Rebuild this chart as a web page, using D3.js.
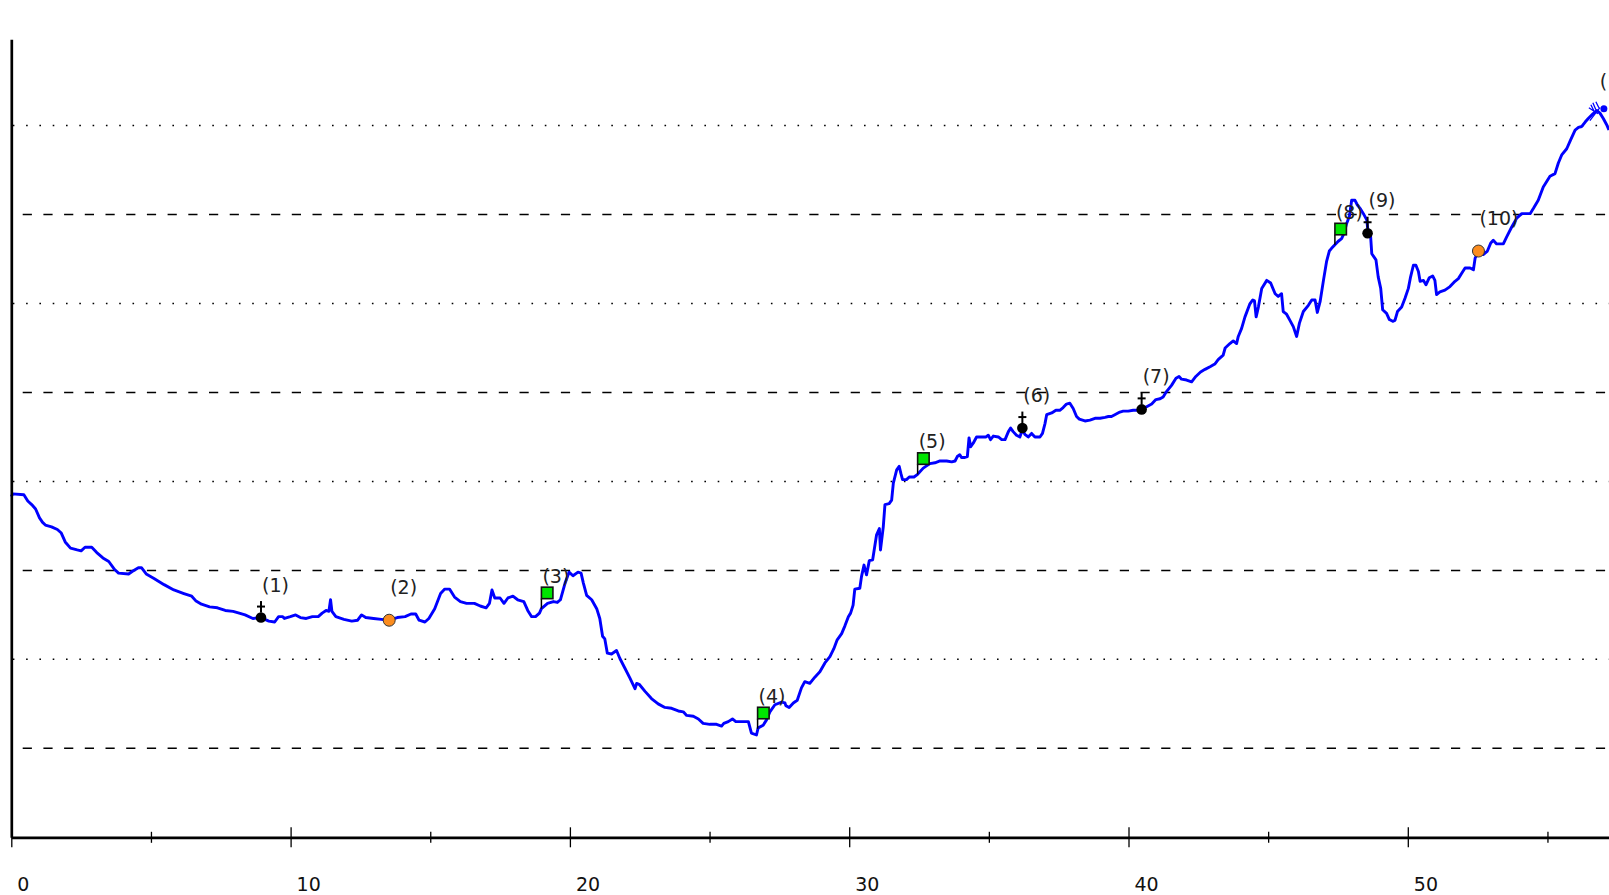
<!DOCTYPE html>
<html><head><meta charset="utf-8">
<script src="https://cdn.jsdelivr.net/npm/d3@7"></script>
<style>html,body{margin:0;padding:0;background:#fff;overflow:hidden}</style>
</head><body><svg id="c" width="1609" height="895"></svg>
<script>
// ---------- data ----------
const lineX = [0,0.05,0.45,0.59,0.73,0.87,1.01,1.12,1.22,1.44,1.65,1.79,1.93,2.12,2.36,2.50,2.64,2.88,3.06,3.28,3.49,3.70,3.84,4.20,4.34,4.55,4.66,4.83,5.11,5.47,5.82,6.18,6.46,6.60,6.81,7.10,7.38,7.66,7.94,8.16,8.37,8.65,8.94,9.22,9.43,9.57,9.72,9.78,9.99,10.18,10.35,10.56,10.78,10.99,11.13,11.27,11.37,11.43,11.48,11.62,11.91,12.19,12.40,12.54,12.69,12.97,13.25,13.53,13.82,14.10,14.31,14.48,14.60,14.81,14.95,15.16,15.37,15.52,15.69,15.87,16.08,16.30,16.58,16.79,17.00,17.12,17.21,17.31,17.50,17.64,17.78,17.96,18.13,18.35,18.49,18.63,18.77,18.91,18.98,19.20,19.41,19.55,19.66,19.83,19.97,20.11,20.29,20.40,
20.48,20.60,20.78,20.96,21.07,21.17,21.25,21.34,21.49,21.67,21.79,21.97,22.15,22.33,22.39,22.48,22.69,22.92,23.16,23.40,23.64,23.88,24.06,24.18,24.42,24.60,24.77,25.01,25.25,25.43,25.51,25.67,25.82,25.94,26.15,26.39,26.50,26.68,26.74,26.92,27.04,27.16,27.34,27.58,27.70,27.73,27.85,28.00,28.14,28.29,28.41,28.59,28.77,28.95,29.13,29.31,29.45,29.57,29.73,29.85,29.97,30.05,30.14,30.20,30.38,30.44,30.53,30.62,30.72,30.84,30.98,31.08,31.12,31.22,31.28,31.43,31.52,31.58,31.70,31.79,31.85,31.91,32.05,32.15,32.32,32.45,
32.65,32.89,33.07,33.25,33.49,33.67,33.79,33.87,33.96,34.02,34.14,34.23,34.29,34.35,34.44,34.56,34.74,34.90,34.98,35.06,35.16,35.34,35.46,35.58,35.70,35.78,35.87,35.99,36.11,36.20,36.29,36.41,36.53,36.65,36.83,36.92,37.01,37.07,37.25,37.40,37.54,37.66,37.78,37.90,38.02,38.14,38.24,38.44,38.62,38.80,38.98,39.16,39.28,39.39,39.51,39.69,39.81,39.99,40.17,40.35,40.47,40.65,40.83,40.98,41.13,41.24,41.36,41.54,41.70,41.81,41.90,42.08,42.26,42.41,42.58,42.74,42.92,43.09,43.21,43.39,
43.46,43.63,43.75,43.87,43.93,44.05,44.17,44.35,44.45,44.51,44.57,44.65,44.77,44.95,45.09,45.25,45.36,45.48,45.54,45.66,45.78,45.90,46.02,46.12,46.26,46.44,46.56,46.68,46.76,46.86,46.98,47.09,47.19,47.27,47.39,47.51,47.63,47.72,47.81,47.91,47.99,48.11,48.19,48.29,48.41,48.53,48.58,48.67,48.71,48.86,48.94,49.03,49.10,49.24,49.34,49.46,49.54,49.63,49.78,49.90,50.02,50.10,50.20,50.29,50.38,50.44,50.56,50.65,50.77,50.89,50.97,51.03,51.15,51.33,51.51,51.69,51.81,51.93,52.05,52.23,52.35,52.41,52.53,52.70,52.85,52.97,53.06,53.18,53.42,53.54,53.72,53.90,54.08,54.26,54.38,54.50,54.67,54.85,55.09,55.27,55.39,55.51,55.69,55.83,55.99,56.11,56.23,56.35,56.46,56.62,56.76,56.88,57.00,57.12,57.20];
const lineY = [3.83,3.86,3.85,3.78,3.74,3.69,3.59,3.54,3.51,3.49,3.46,3.42,3.32,3.25,3.23,3.22,3.26,3.26,3.20,3.14,3.10,3.01,2.97,2.96,2.99,3.03,3.03,2.96,2.91,2.84,2.78,2.74,2.71,2.66,2.62,2.59,2.58,2.55,2.54,2.52,2.50,2.46,2.47,2.43,2.42,2.48,2.48,2.46,2.48,2.50,2.47,2.46,2.48,2.48,2.52,2.55,2.54,2.67,2.54,2.48,2.45,2.43,2.44,2.50,2.47,2.46,2.45,2.44,2.47,2.48,2.51,2.51,2.44,2.42,2.46,2.57,2.74,2.79,2.79,2.70,2.65,2.63,2.63,2.60,2.58,2.63,2.78,2.69,2.69,2.63,2.69,2.71,2.67,2.65,2.55,2.48,2.48,2.52,2.57,2.63,2.65,2.64,2.67,2.86,2.98,2.94,2.98,2.97,
2.86,2.72,2.67,2.57,2.46,2.26,2.23,2.07,2.06,2.10,2.01,1.90,1.79,1.67,1.73,1.72,1.64,1.56,1.50,1.46,1.45,1.42,1.41,1.37,1.36,1.33,1.28,1.27,1.27,1.25,1.28,1.30,1.33,1.30,1.30,1.30,1.17,1.15,1.23,1.26,1.32,1.41,1.49,1.52,1.51,1.48,1.46,1.51,1.54,1.68,1.75,1.73,1.80,1.86,1.96,2.03,2.12,2.22,2.29,2.38,2.48,2.52,2.61,2.79,2.80,2.93,3.06,2.95,3.11,3.12,3.40,3.47,3.23,3.49,3.74,3.75,3.79,3.98,4.13,4.17,4.09,4.02,4.02,4.05,4.05,4.08,
4.15,4.20,4.21,4.23,4.23,4.22,4.23,4.28,4.30,4.27,4.27,4.28,4.49,4.39,4.43,4.50,4.50,4.50,4.52,4.47,4.51,4.50,4.47,4.47,4.56,4.60,4.56,4.52,4.50,4.58,4.53,4.50,4.54,4.50,4.50,4.54,4.65,4.75,4.77,4.80,4.80,4.83,4.87,4.88,4.82,4.73,4.70,4.68,4.69,4.71,4.71,4.72,4.73,4.73,4.75,4.78,4.79,4.79,4.80,4.80,4.81,4.84,4.87,4.92,4.93,4.95,5.01,5.08,5.16,5.18,5.15,5.14,5.12,5.18,5.23,5.26,5.29,5.32,5.37,5.42,
5.50,5.55,5.58,5.55,5.63,5.72,5.85,6.00,6.04,6.03,5.85,5.96,6.17,6.26,6.23,6.11,6.08,6.11,5.91,5.88,5.81,5.74,5.63,5.78,5.91,5.98,6.04,6.04,5.90,6.02,6.26,6.47,6.59,6.62,6.66,6.70,6.73,6.79,6.90,6.98,7.16,7.16,7.11,7.07,7.01,6.94,6.80,6.75,6.56,6.49,6.30,6.17,5.93,5.89,5.82,5.80,5.81,5.91,5.96,6.06,6.17,6.30,6.43,6.43,6.36,6.25,6.26,6.21,6.29,6.31,6.26,6.10,6.13,6.15,6.19,6.25,6.28,6.34,6.40,6.40,6.38,6.51,6.58,6.55,6.59,6.68,6.71,6.67,6.67,6.75,6.86,6.96,7.01,7.01,7.01,7.07,7.16,7.31,7.43,7.46,7.58,7.67,7.74,7.84,7.95,7.98,7.99,8.04,8.08,8.13,8.17,8.14,8.08,8.01,7.95];

const markerX = [8.94, 13.53, 18.98, 26.72, 32.45, 36.20, 40.47, 47.39, 48.56, 52.53, 57.02];
const markerY = [2.47, 2.44, 2.57, 1.22, 4.08, 4.60, 4.81, 6.66, 6.79, 6.59, 8.19];
const markerType = ["cross","orange","flag","flag","flag","cross","cross","flag","cross","orange","fork"];
const markerLabel = ["(1)","(2)","(3)","(4)","(5)","(6)","(7)","(8)","(9)","(10)","(11)"];

const xMajorTicks = [0,10,20,30,40,50];
const xMinorTicks = [5,15,25,35,45,55];
const gridDashed = [1,3,5,7];
const gridDotted = [2,4,6,8];

// ---------- drawing ----------
const W = 1609, H = 895;
const svg = d3.select("#c");
const x = d3.scaleLinear().domain([0, 57.2]).range([11.3, 1608.9]);
const y = d3.scaleLinear().domain([0, 8.97]).range([837.3, 39.3]);

// gridlines
svg.append("g").selectAll("line").data(gridDotted).join("line")
  .attr("x1", x(0)).attr("x2", W).attr("y1", d=>y(d)).attr("y2", d=>y(d))
  .attr("stroke", "#000").attr("stroke-width", 1.5)
  .attr("stroke-dasharray", "1.6,11.7").attr("stroke-dashoffset", -1.5);
svg.append("g").selectAll("line").data(gridDashed).join("line")
  .attr("x1", x(0)).attr("x2", W).attr("y1", d=>y(d)).attr("y2", d=>y(d))
  .attr("stroke", "#000").attr("stroke-width", 1.5)
  .attr("stroke-dasharray", "9.2,11.5").attr("stroke-dashoffset", 9.3);

// line
const pts = lineX.map((d,i)=>[d, lineY[i]]);
svg.append("path").datum(pts)
  .attr("d", d3.line().x(d=>x(d[0])).y(d=>y(d[1])))
  .attr("fill", "none").attr("stroke", "#0000ff").attr("stroke-width", 2.9)
  .attr("stroke-linejoin", "round");

// x axis
const gx = svg.append("g").attr("transform", `translate(0,${y(0)})`)
  .call(d3.axisBottom(x).tickValues(xMajorTicks).tickSizeOuter(0).tickFormat(d3.format("d")));
gx.select(".domain").attr("stroke", "#000").attr("stroke-width", 2.7);
gx.selectAll(".tick line").attr("y1", -10).attr("y2", 10).attr("stroke-width", 1.3);
gx.selectAll(".tick text").attr("text-anchor", "start").attr("x", 5.5).attr("y", 54).attr("dy", 0)
  .attr("font-family", "DejaVu Sans").attr("font-size", 19).attr("fill", "#111");
const gxm = svg.append("g").attr("transform", `translate(0,${y(0)})`)
  .call(d3.axisBottom(x).tickValues(xMinorTicks).tickSizeOuter(0).tickFormat(""));
gxm.select(".domain").remove();
gxm.selectAll(".tick line").attr("y1", -5.5).attr("y2", 5.5).attr("stroke-width", 1.3);

// y axis
const gy = svg.append("g").attr("transform", `translate(${x(0)},0)`)
  .call(d3.axisLeft(y).tickValues([]).tickSizeOuter(0));
gy.select(".domain").attr("stroke", "#000").attr("stroke-width", 2.7);

// markers
const mk = svg.append("g");
markerX.forEach((mx, i) => {
  const px = x(mx), py = y(markerY[i]), t = markerType[i];
  const g = mk.append("g");
  if (t === "cross") {
    g.append("circle").attr("cx", px).attr("cy", py).attr("r", 5.3).attr("fill", "#000");
    g.append("line").attr("x1", px).attr("x2", px).attr("y1", py-16.5).attr("y2", py-5).attr("stroke", "#000").attr("stroke-width", 2);
    g.append("line").attr("x1", px-4).attr("x2", px+4).attr("y1", py-11).attr("y2", py-11).attr("stroke", "#000").attr("stroke-width", 2);
  } else if (t === "orange") {
    g.append("circle").attr("cx", px).attr("cy", py).attr("r", 6).attr("fill", "#fb8c1e").attr("stroke", "#333").attr("stroke-width", 1);
  } else if (t === "flag") {
    g.append("line").attr("x1", px).attr("x2", px).attr("y1", py).attr("y2", py-10).attr("stroke", "#000").attr("stroke-width", 1.5);
    g.append("rect").attr("x", px).attr("y", py-21.5).attr("width", 11.5).attr("height", 11.5)
      .attr("fill", "#00e600").attr("stroke", "#111").attr("stroke-width", 1.6);
  } else if (t === "fork") {
    g.append("circle").attr("cx", px).attr("cy", py).attr("r", 3.5).attr("fill", "#0000ff");
    g.append("path").attr("d", `M${px-14},${py+12} L${px-4},${py-1} M${px-15},${py-1} L${px-6},${py+5} M${px-11},${py-6} L${px-8},${py+1} M${px-8},${py-7} L${px-5},${py-1} M${px-13},${py-4} L${px-10},${py+2}`)
      .attr("stroke", "#0000ff").attr("stroke-width", 1.3).attr("fill", "none");
  }
  const lx = t === "fork" ? px - 4 : px + 1;
  const ly = t === "fork" ? py - 21 : py - 26;
  g.append("text").attr("x", lx).attr("y", ly).text(markerLabel[i])
    .attr("font-family", "DejaVu Sans").attr("font-size", 19).attr("fill", "#222");
});
</script></body></html>
